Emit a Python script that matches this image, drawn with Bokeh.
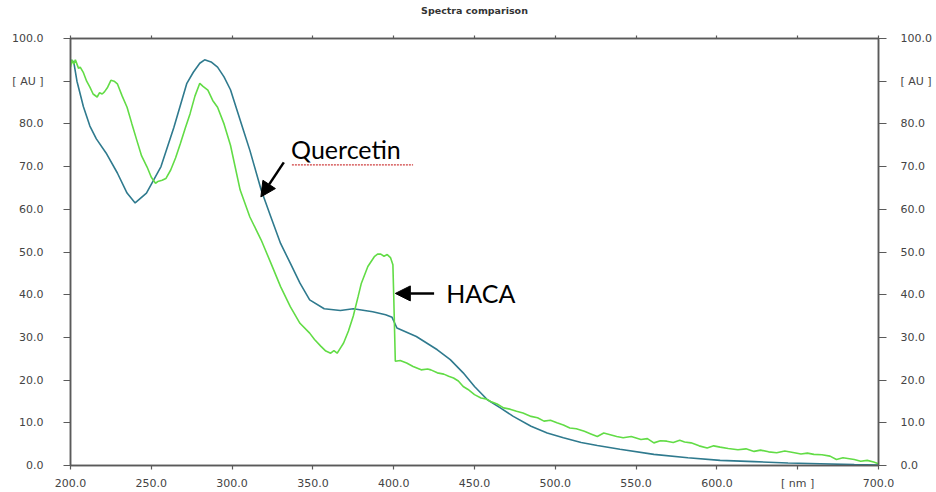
from bokeh.plotting import figure
from bokeh.models import (Range1d, LinearAxis, FixedTicker, Arrow, NormalHead,
                          Label)
from bokeh.embed import file_html
from bokeh.resources import INLINE

# ---- data ----
quercetin_nm = [200, 202, 204, 208, 212, 216, 222, 229, 235, 240, 247, 256, 264,
                272, 276, 280, 283, 287, 291, 295, 299, 307, 311, 318, 324, 330,
                336, 342, 348, 357, 367, 375, 387, 395, 399, 402, 414, 427, 435,
                443, 450, 458, 466, 474, 485, 495, 505, 516, 526, 540, 561, 582,
                602, 623, 644, 664, 685, 700]
quercetin_au = [95.0, 94.5, 90.0, 84.0, 79.5, 76.5, 73.2, 68.5, 63.8, 61.5, 63.8,
                70.0, 79.2, 89.5, 92.1, 94.2, 95.0, 94.5, 93.3, 91.0, 88.0, 78.5,
                73.8, 64.5, 58.2, 52.0, 47.4, 42.7, 38.8, 36.7, 36.3, 36.7, 36.0,
                35.3, 34.7, 32.2, 30.2, 27.1, 24.8, 21.7, 18.5, 15.4, 13.5, 11.5,
                9.2, 7.6, 6.5, 5.4, 4.7, 3.8, 2.6, 1.8, 1.2, 0.9, 0.6, 0.4, 0.2,
                0.1]

haca_nm = [200, 201, 202, 203, 205, 206, 208, 210, 212, 214, 216.5, 218, 219.6,
           221, 223, 225, 227, 229, 232, 235, 238, 241, 244, 247.4, 250, 252.6,
           254, 256.7, 259, 262, 265, 268, 271, 274, 277, 280, 282, 285, 288,
           291, 295, 299, 305, 311, 318, 324, 330, 336, 342, 348, 351, 355, 358,
           361, 363, 365, 367, 369, 372, 375, 378, 380, 384, 388, 390, 392, 394,
           396, 398, 399.5, 400, 401, 404, 408, 412, 417, 421, 423, 427, 431,
           434, 437, 440, 443, 446, 450, 454, 457, 460, 464, 468, 472, 476, 480,
           485, 489, 493, 497, 501, 505, 509, 513, 518, 522, 526, 530, 534, 538,
           542, 547, 553, 557, 561, 565, 569, 573, 577, 580, 584, 589, 594, 598,
           602, 607, 613, 618, 623, 627, 632, 637, 642, 648, 652, 656, 660, 665,
           670, 674, 678, 685, 689, 693, 697, 700]
haca_au = [93.3, 95.0, 94.0, 95.0, 93.0, 93.3, 92.0, 90.0, 88.6, 87.0, 86.3, 87.3,
           87.0, 87.5, 88.6, 90.2, 90.0, 89.4, 86.5, 83.9, 80.0, 76.2, 72.5, 69.9,
           67.5, 66.1, 66.5, 66.8, 67.2, 69.2, 72.0, 75.4, 79.0, 82.4, 86.5, 89.5,
           88.8, 87.9, 85.5, 83.9, 80.0, 75.0, 64.5, 58.2, 52.8, 47.4, 41.9, 37.2,
           33.3, 31.0, 29.5, 27.9, 26.8, 26.3, 26.9, 26.3, 27.5, 28.7, 31.5, 35.0,
           39.6, 42.7, 46.6, 48.9, 49.5, 49.5, 49.0, 49.4, 48.7, 47.0, 40.0, 24.4,
           24.6, 24.0, 23.2, 22.4, 22.6, 22.4, 21.7, 21.4, 20.9, 20.5, 19.8, 18.5,
           17.8, 16.6, 15.8, 15.6, 15.0, 14.4, 13.5, 13.2, 12.7, 12.3, 11.5, 11.2,
           10.4, 10.6, 10.0, 9.5, 8.8, 8.6, 8.0, 7.4, 6.8, 7.6, 7.2, 6.8, 6.5, 6.8,
           6.1, 6.3, 5.3, 5.8, 5.7, 5.4, 5.9, 5.5, 5.3, 4.6, 4.1, 4.6, 4.3, 4.0,
           3.7, 3.9, 3.3, 3.6, 3.2, 3.0, 3.4, 3.0, 2.7, 2.9, 2.6, 2.5, 2.2, 1.4,
           1.8, 1.4, 1.0, 1.2, 0.8, 0.4]

x_ticks = [200, 250, 300, 350, 400, 450, 500, 550, 600, 650, 700]
x_tick_labels = ["200.0", "250.0", "300.0", "350.0", "400.0", "450.0", "500.0",
                 "550.0", "600.0", "[ nm ]", "700.0"]
y_ticks = [0, 10, 20, 30, 40, 50, 60, 70, 80, 90, 100]
y_tick_labels = ["0.0", "10.0", "20.0", "30.0", "40.0", "50.0", "60.0", "70.0",
                 "80.0", "[ AU ]", "100.0"]
chart_title = "Spectra comparison"

# annotation anchors (data units)
quercetin_label = (336.5, 74.2)
quercetin_arrow = (332.0, 71.0, 317.8, 62.9)
haca_label = (432.5, 40.3)
haca_arrow = (425.0, 40.3, 401.0, 40.3)

BLUE = "#2f7a8e"
GREEN = "#62dc46"
AXIS = "#5a5a5a"
TICKTXT = "#444444"

p = figure(width=936, height=492, output_backend="svg", toolbar_location=None,
           x_range=Range1d(200, 700), y_range=Range1d(0, 100),
           min_border_left=70, min_border_right=58, min_border_top=38,
           min_border_bottom=26, x_axis_location=None, y_axis_location=None)
p.background_fill_color = "white"
p.border_fill_color = "white"
p.outline_line_color = AXIS
p.outline_line_width = 1.5
p.xgrid.visible = False
p.ygrid.visible = False
p.title.visible = False


def style_axis(ax, ticks, labels, tick_out, standoff, size="11px"):
    ax.ticker = FixedTicker(ticks=ticks)
    ax.major_label_overrides = {t: l for t, l in zip(ticks, labels)}
    ax.minor_tick_line_color = None
    ax.major_tick_in = 0
    ax.major_tick_out = tick_out
    ax.major_tick_line_color = AXIS
    ax.major_tick_line_width = 1.2
    ax.axis_line_color = AXIS
    ax.axis_line_width = 1.5
    ax.major_label_standoff = standoff
    ax.major_label_text_font = "DejaVu Sans"
    ax.major_label_text_font_size = size
    ax.major_label_text_color = TICKTXT


left = LinearAxis()
style_axis(left, y_ticks, y_tick_labels, 7, 20)
p.add_layout(left, "left")

right = LinearAxis()
style_axis(right, y_ticks, y_tick_labels, 8, 14)
right.major_label_text_align = "left"
p.add_layout(right, "right")

bottom = LinearAxis()
style_axis(bottom, x_ticks, x_tick_labels, 4, 7)
p.add_layout(bottom, "below")

top = LinearAxis()
style_axis(top, x_ticks, [""] * len(x_ticks), 3, 0, size="0px")
top.axis_label = chart_title
top.axis_label_text_font = "DejaVu Sans"
top.axis_label_text_font_size = "9.5px"
top.axis_label_text_font_style = "bold"
top.axis_label_text_color = "#333333"
top.axis_label_standoff = 20
p.add_layout(top, "above")

p.line(quercetin_nm, quercetin_au, line_color=BLUE, line_width=1.6)
p.line(haca_nm, haca_au, line_color=GREEN, line_width=1.6)

# annotations
p.add_layout(Label(x=quercetin_label[0], y=quercetin_label[1], text="Quercetin",
                   text_font="Lato", text_font_size="25px", text_color="black",
                   text_baseline="alphabetic"))
p.add_layout(Label(x=haca_label[0], y=haca_label[1], text="HACA",
                   text_font="Lato", text_font_size="25px", text_color="black",
                   text_baseline="alphabetic"))
# spell-check style underline under "Quercetin"
p.line([quercetin_label[0] + 0.5, quercetin_label[0] + 75.5],
       [quercetin_label[1] - 3.8, quercetin_label[1] - 3.8],
       line_color="#d04040", line_width=1.2, line_dash="2 1")

for (x0, y0, x1, y1) in (quercetin_arrow, haca_arrow):
    p.add_layout(Arrow(end=NormalHead(size=15, fill_color="black",
                                      line_color="black"),
                       x_start=x0, y_start=y0, x_end=x1, y_end=y1,
                       line_color="black", line_width=2.5))

open("out.html", "w").write(file_html(p, INLINE))
